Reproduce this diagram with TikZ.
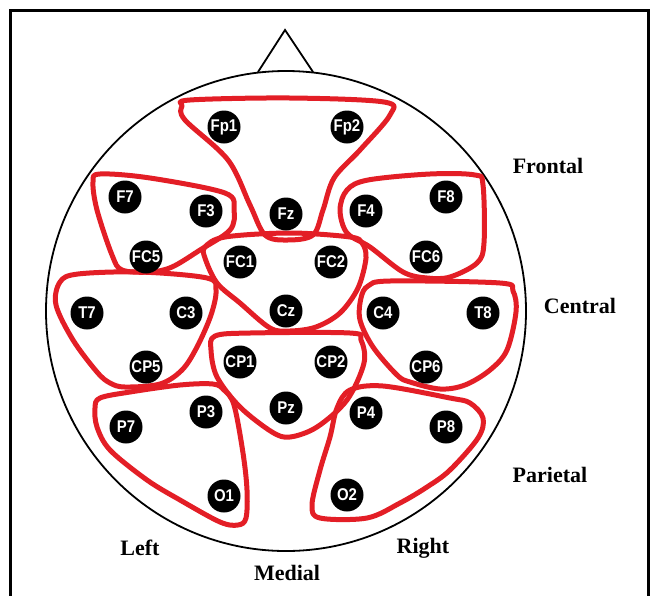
\documentclass[tikz,border=0pt]{standalone}
\usepackage{fontspec}
\setmainfont{Liberation Serif}
\newfontfamily\elecfont[FakeStretch=0.88]{Liberation Sans}
\definecolor{regred}{RGB}{227,30,38}
\begin{document}
\begin{tikzpicture}[x=1pt,y=-1pt,
  elec/.style={circle,fill=black,minimum size=33pt,inner sep=0pt,text=white,font=\elecfont\bfseries\fontsize{17}{17}\selectfont},
  region/.style={draw=regred,line width=5pt,line join=round},
  lab/.style={font=\bfseries\fontsize{22}{22}\selectfont,inner sep=0pt},
  headline/.style={draw=black,line width=1.8pt}]
\useasboundingbox (0,0) rectangle (650,595);
% frame
\draw[line width=3pt] (10,600) -- (10,10) -- (648,10) -- (648,600);
% head
\draw[headline] (286,311) circle (240);
\draw[headline,line join=miter] (258,72) -- (285,30) -- (313,72);
% regions
\draw[region] plot[smooth cycle,tension=0.55] coordinates {(190,100) (290,98) (384,102) (390,115) (360,150) (334,178) (323,210) (313,235) (287,240) (265,235) (250,205) (228,160) (185,120) (182,106)};
\draw[region] plot[smooth cycle,tension=0.55] coordinates {(100,174) (150,178) (225,193) (234,210) (230,230) (200,250) (172,267) (150,272) (122,270) (112,255) (97,210) (93,182)};
\draw[region] plot[smooth cycle,tension=0.55] coordinates {(347,190) (368,180) (430,174) (475,175) (483,185) (484,243) (477,263) (450,277) (427,278) (403,272) (370,247) (347,233) (340,210)};
\draw[region] plot[smooth cycle,tension=0.55] coordinates {(205,247) (225,237) (290,233) (350,237) (362,243) (366,258) (358,288) (340,313) (316,327) (290,331) (270,328) (240,303) (217,283) (205,258)};
\draw[region] plot[smooth cycle,tension=0.55] coordinates {(215,336) (250,333) (350,333) (361,340) (364,363) (347,400) (317,427) (290,437) (272,432) (240,407) (217,377) (211,350)};
\draw[region] plot[smooth cycle,tension=0.55] coordinates {(60,282) (78,274) (140,272) (207,278) (216,290) (211,315) (197,347) (182,370) (160,384) (125,387) (110,383) (97,372) (73,340) (56,305)};
\draw[region] plot[smooth cycle,tension=0.55] coordinates {(368,286) (390,281) (500,283) (513,291) (516,312) (507,350) (490,370) (465,385) (440,389) (410,382) (397,375) (373,347) (360,320) (361,298)};
\draw[region] plot[smooth cycle,tension=0.55] coordinates {(100,398) (130,392) (180,385) (213,384) (224,390) (234,405) (243,453) (247,490) (246,518) (238,525) (220,522) (180,500) (147,480) (110,450) (97,427) (95,408)};
\draw[region] plot[smooth cycle,tension=0.55] coordinates {(350,390) (383,386) (450,398) (470,403) (483,418) (478,438) (450,470) (427,487) (400,503) (367,518) (320,518) (312,505) (320,470) (330,437) (337,408)};
% electrodes
\node[elec] (Fp1) at (224,127) {Fp1};
\node[elec] (Fp2) at (347,127) {Fp2};
\node[elec] (F7) at (125,197) {F7};
\node[elec] (F3) at (206,211) {F3};
\node[elec] (Fz) at (286,214) {Fz};
\node[elec] (F4) at (366,211) {F4};
\node[elec] (F8) at (446,197) {F8};
\node[elec] (FC5) at (146,257) {FC5};
\node[elec] (FC1) at (240,262) {FC1};
\node[elec] (FC2) at (331,262) {FC2};
\node[elec] (FC6) at (426,257) {FC6};
\node[elec] (T7) at (87,313) {T7};
\node[elec] (C3) at (186,313) {C3};
\node[elec] (Cz) at (286,311) {Cz};
\node[elec] (C4) at (383,313) {C4};
\node[elec] (T8) at (483,313) {T8};
\node[elec] (CP5) at (146,367) {CP5};
\node[elec] (CP1) at (240,362) {CP1};
\node[elec] (CP2) at (331,362) {CP2};
\node[elec] (CP6) at (426,367) {CP6};
\node[elec] (P7) at (126,427) {P7};
\node[elec] (P3) at (206,412) {P3};
\node[elec] (Pz) at (286,408) {Pz};
\node[elec] (P4) at (366,413) {P4};
\node[elec] (P8) at (446,427) {P8};
\node[elec] (O1) at (224,496) {O1};
\node[elec] (O2) at (347,495) {O2};
% labels
\node[lab] (frontal) at (548,166) {Frontal};
\node[lab] (central) at (580,306) {Central};
\node[lab] (parietal) at (550,475) {Parietal};
\node[lab] (left) at (140,548) {Left};
\node[lab] (right) at (423,548) {Right};
\node[lab] (medial) at (287,573) {Medial};
\end{tikzpicture}
\end{document}
